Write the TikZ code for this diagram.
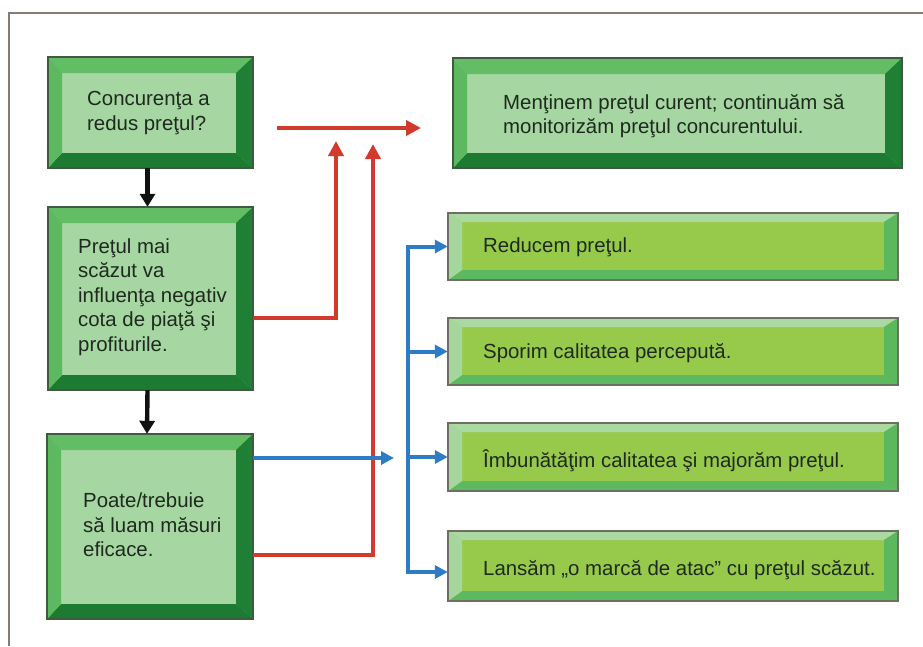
\documentclass[tikz,border=0pt]{standalone}
\usepackage{fontspec}
\setmainfont{Liberation Sans}
\usetikzlibrary{arrows.meta}

\definecolor{frameline}{HTML}{857A76}
\definecolor{bigface}{HTML}{A6D6A2}
\definecolor{bigtop}{HTML}{62BD64}
\definecolor{bigleft}{HTML}{5CB95F}
\definecolor{bigright}{HTML}{1F7F35}
\definecolor{bigbottom}{HTML}{1D7A33}
\definecolor{bigedge}{HTML}{3F5A40}
\definecolor{barface}{HTML}{97C94B}
\definecolor{bartop}{HTML}{AAD9A2}
\definecolor{barleft}{HTML}{A5D69E}
\definecolor{barright}{HTML}{5CB85D}
\definecolor{barbottom}{HTML}{5DB95F}
\definecolor{baredge}{HTML}{6E6E62}
\definecolor{inktext}{HTML}{1E2A1E}
\definecolor{arrred}{HTML}{D33A2E}
\definecolor{arrblue}{HTML}{2E7CC6}
\definecolor{arrblack}{HTML}{111111}

% bevel: left, top, right, bottom widths (pt) and their four colours
\newcommand\bevelfill[8]{%
  \coordinate (bvnw) at (path picture bounding box.north west);
  \coordinate (bvne) at (path picture bounding box.north east);
  \coordinate (bvse) at (path picture bounding box.south east);
  \coordinate (bvsw) at (path picture bounding box.south west);
  \coordinate (bvinw) at ([shift={(#1pt,-#2pt)}]bvnw);
  \coordinate (bvine) at ([shift={(-#3pt,-#2pt)}]bvne);
  \coordinate (bvise) at ([shift={(-#3pt,#4pt)}]bvse);
  \coordinate (bvisw) at ([shift={(#1pt,#4pt)}]bvsw);
  \fill[#6] (bvnw) -- (bvne) -- (bvine) -- (bvinw) -- cycle;
  \fill[#7] (bvne) -- (bvse) -- (bvise) -- (bvine) -- cycle;
  \fill[#8] (bvse) -- (bvsw) -- (bvisw) -- (bvise) -- cycle;
  \fill[#5] (bvsw) -- (bvnw) -- (bvinw) -- (bvisw) -- cycle;
}

\tikzset{
  bigbox/.style={rectangle, inner sep=0pt, fill=bigface,
    path picture={\bevelfill{14}{16}{17}{15}{bigleft}{bigtop}{bigright}{bigbottom}},
    postaction={draw=bigedge, line width=1.2pt}},
  barbox/.style={rectangle, inner sep=0pt, fill=barface,
    minimum width=450pt, minimum height=67pt,
    path picture={\bevelfill{14}{9}{14}{10}{barleft}{bartop}{barright}{barbottom}},
    postaction={draw=baredge, line width=1.4pt}},
  txt/.style={anchor=west, inner sep=0pt, align=left, text=inktext,
    font=\fontsize{20.4}{24.5}\selectfont},
  redarrow/.style={draw=arrred, line width=4.4pt,
    -{Triangle[length=15pt,width=15pt]}},
  bluearrow/.style={draw=arrblue, line width=4pt,
    -{Triangle[length=13pt,width=13pt]}},
  blueline/.style={draw=arrblue, line width=4pt, line cap=rect},
  blackarrow/.style={draw=arrblack, line width=4.4pt,
    -{Triangle[length=13pt,width=15pt]}},
}

\begin{document}
\begin{tikzpicture}[x=1pt, y=-1pt]
\useasboundingbox (0,0) rectangle (923,646);
\fill[white] (0,0) rectangle (923,646);

% page frame
\draw[frameline, line width=2pt] (923,13) -- (9,13) -- (9,646);

% left column
\node[bigbox, minimum width=205pt, minimum height=111pt] (b1) at (150.5,112.5) {};
\node[bigbox, minimum width=205pt, minimum height=183pt] (b2) at (150.5,298.5) {};
\node[bigbox, minimum width=206pt, minimum height=185pt] (b3) at (150,526.5) {};
\node[txt] (t1) at (87,113) {Concurenţa a\\redus preţul?};
\node[txt] (t2) at (78,297) {Preţul mai\\scăzut va\\influenţa negativ\\cota de piaţă şi\\profiturile.};
\node[txt] (t3) at (83,525) {Poate/trebuie\\să luam măsuri\\eficace.};

% outcome box
\node[bigbox, minimum width=449pt, minimum height=110pt] (b4) at (677.5,113) {};
\node[txt] (t4) at (503,116) {Menţinem preţul curent; continuăm să\\monitorizăm preţul concurentului.};

% action bars
\node[barbox] (r1) at (673,246.5) {};
\node[barbox] (r2) at (673,351.5) {};
\node[barbox, minimum height=68pt] (r3) at (673,457) {};
\node[barbox, minimum height=70pt] (r4) at (673,566) {};
\node[txt] (u1) at (483,247) {Reducem preţul.};
\node[txt] (u2) at (483,353) {Sporim calitatea percepută.};
\node[txt] (u3) at (483,461) {Îmbunătăţim calitatea şi majorăm preţul.};
\node[txt] (u4) at (483,570) {Lansăm „o marcă de atac” cu preţul scăzut.};

% black flow arrows
\draw[blackarrow] ([xshift=-3pt]b1.south) -- ([xshift=-3pt]b2.north);
\draw[blackarrow] ([xshift=-3pt]b2.south) -- ([xshift=-3pt]b3.north);

% red connectors
\coordinate (rs) at (277,128);
\coordinate (re) at (421,128);
\coordinate (rt1) at (336,141);
\coordinate (rt2) at (373,144);
\draw[redarrow] (rs) -- (re);
\draw[redarrow] (b2.east |- 0,318) -| (rt1);
\draw[redarrow] (b3.east |- 0,555) -| (rt2);

% blue connectors
\coordinate (bt) at (394,458);
\coordinate (trunk) at (408,0);
\draw[bluearrow] (b3.east |- 0,458) -- (bt);
\draw[blueline] (trunk |- r1.west) -- (trunk |- 0,572);
\foreach \r in {r1,r2,r3}
  \draw[bluearrow] (trunk |- \r.west) -- (\r.west);
\draw[bluearrow] (trunk |- 0,572) -- (r4.west |- 0,572);
\end{tikzpicture}
\end{document}
